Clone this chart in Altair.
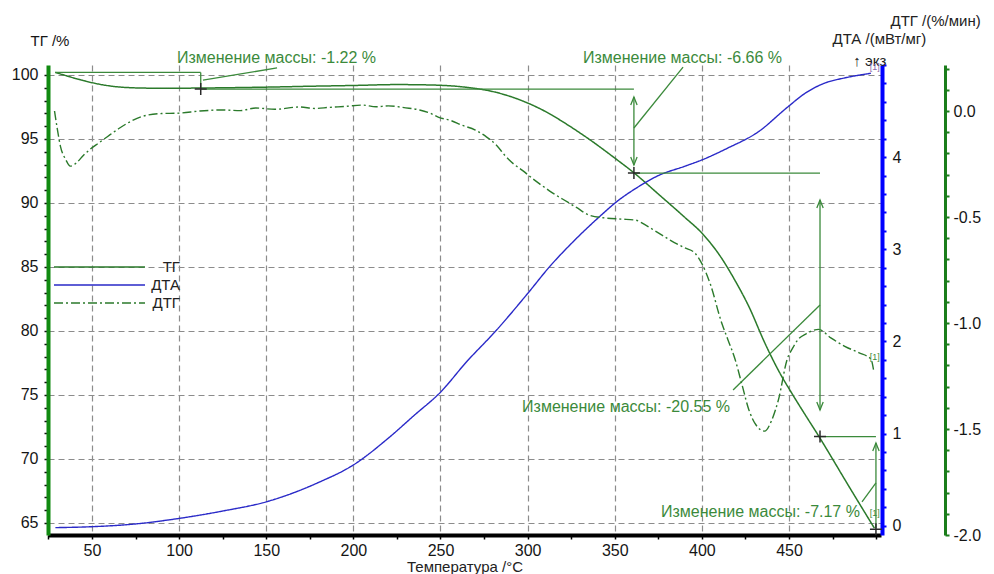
import altair as alt
import pandas as pd

# ---------------- data ----------------
# ТГ (mass, %) vs temperature (°C)
tg_t = [29, 35, 40, 50, 60, 70, 85, 100, 125, 150, 175, 200, 225, 244, 262, 282, 297, 314, 320, 335,
        350, 361, 375, 390, 400, 411, 419, 427, 436, 444, 452, 460, 467, 475, 482, 490, 499]
tg_v = [100.2, 99.95, 99.75, 99.4, 99.15, 99.02, 98.97, 98.97, 99.0, 99.05, 99.12, 99.18, 99.25, 99.22,
        99.08, 98.64, 97.98, 96.86, 96.36, 95.01, 93.51, 92.36, 90.7, 88.9, 87.65, 85.75, 83.95, 81.9,
        79.1, 76.9, 75.05, 73.3, 71.8, 70.0, 68.4, 66.6, 64.6]

# ДТА (mW/mg)
dta_t = [29, 50, 75, 100, 125, 150, 180, 200, 220, 235, 250, 265, 282, 300, 313, 326, 341, 352, 362,
         375, 390, 400, 415, 432, 449, 459, 470, 482, 497]
dta_v = [-0.02, -0.01, 0.02, 0.08, 0.16, 0.26, 0.47, 0.66, 0.95, 1.2, 1.45, 1.78, 2.12, 2.52, 2.82,
         3.08, 3.35, 3.53, 3.66, 3.80, 3.90, 3.97, 4.10, 4.27, 4.54, 4.69, 4.80, 4.86, 4.91]

# ДТГ (%/min)
dtg_t = [28.5, 30, 32, 35, 37.5, 41, 45, 49, 54, 59, 65, 72, 79, 90, 100, 112, 125, 135, 144, 155,
         169, 178, 186, 196, 205, 213, 220, 230, 238, 244, 249, 256, 262, 270, 276, 282, 287, 292, 297,
         303, 308, 314, 320, 328, 335, 345, 354, 362, 368, 375, 382, 390, 396, 400, 405, 411, 415, 419,
         423, 427, 431, 436, 440, 444, 449, 452, 455, 460, 467, 474, 482, 490, 497, 498.5]
dtg_v = [0.0, -0.08, -0.17, -0.23, -0.26, -0.245, -0.21, -0.18, -0.15, -0.12, -0.085, -0.05, -0.025,
         -0.012, -0.01, 0.0, 0.005, 0.002, 0.014, 0.008, 0.019, 0.012, 0.017, 0.022, 0.028, 0.02, 0.024,
         0.015, 0.005, -0.01, -0.03, -0.045, -0.066, -0.09, -0.12, -0.16, -0.21, -0.25, -0.28, -0.32,
         -0.35, -0.385, -0.415, -0.455, -0.49, -0.505, -0.51, -0.515, -0.54, -0.575, -0.61, -0.645,
         -0.67, -0.72, -0.82, -0.99, -1.08, -1.17, -1.29, -1.41, -1.48, -1.51, -1.46, -1.36, -1.17,
         -1.12, -1.08, -1.05, -1.03, -1.07, -1.11, -1.14, -1.17, -1.22]

series_names = ["ТГ", "ДТА", "ДТГ"]

# mass-change annotation segments (TG units)
seg_x1 = [28.8, 112.4, 112.4, 113.7, 361.0, 361.0, 361.0, 467.8, 467.8, 467.8, 499.9, 499.9]
seg_y1 = [100.2, 100.2, 98.9, 99.6, 98.28, 95.86, 92.34, 90.23, 82.03, 71.75, 71.25, 68.13]
seg_x2 = [112.4, 112.4, 361.0, 156.2, 361.0, 389.2, 467.8, 467.8, 417.9, 499.9, 499.9, 491.9]
seg_y2 = [100.2, 98.9, 98.9, 100.55, 92.97, 100.62, 92.34, 73.83, 75.39, 71.75, 64.6, 66.64]

arrow_up_x = [361.0, 467.8, 499.9]
arrow_up_y = [98.28, 90.23, 71.25]
arrow_dn_x = [361.0, 467.8]
arrow_dn_y = [92.97, 73.83]

cross_x = [112.4, 361.0, 467.8, 499.9]
cross_y = [98.9, 92.34, 71.75, 64.5]

ann_text = ["Изменение массы: -1.22 %", "Изменение массы: -6.66 %",
            "Изменение массы: -20.55 %", "Изменение массы: -7.17 %"]
ann_x = [98.8, 331.8, 296.8, 376.5]
ann_y = [101.33, 101.33, 74.06, 65.86]

tag_x = [499.2, 499.2, 499.2]
tag_y = [100.6, 77.97, 65.78]
tag_c = ["#8a6aa8", "#3b8a3b", "#3b8a3b"]

# ---------------- styling ----------------
FONT = "Liberation Sans"
TG_C = "#2b7a2b"
DTA_C = "#2a2ac8"
DTG_C = "#2b7a2b"
ANN_C = "#3b8a3b"
GRID_C = "#8c8c8c"
LEFT_G = "#118a11"
RIGHT_G = "#1b7d1b"
TXT = "#151515"

xdom = [24.75, 502.8]
tg_dom = [64.06, 100.78]
dta_dom = [-0.1, 5.0]
dtg_dom = [-2.0, 0.217]

xs = alt.Scale(domain=xdom, nice=False, zero=False)


def ys(d):
    return alt.Scale(domain=d, nice=False, zero=False)


color_scale = alt.Scale(domain=series_names, range=[TG_C, DTA_C, DTG_C])
dash_scale = alt.Scale(domain=series_names, range=[[1, 0], [1, 0], [9, 3, 2, 3]])

legend = alt.Legend(orient="none", legendX=5, legendY=194, title=None, symbolType="stroke",
                    symbolSize=8281, symbolStrokeWidth=1.3, clipHeight=16, labelAlign="right",
                    labelOffset=34, labelFontSize=15, labelFont=FONT, labelColor="#222",
                    rowPadding=2, padding=0)

x_axis = alt.Axis(values=list(range(25, 501, 25)),
                  labelExpr="datum.value % 50 === 0 && datum.value < 480 ? datum.label : ''",
                  grid=True, gridDash=[6, 4], gridColor=GRID_C, gridWidth=1.2,
                  gridOpacity={"condition": {"test": "datum.value % 50 === 0 && datum.value < 480",
                                             "value": 1}, "value": 0},
                  domainColor="#000000", domainWidth=4, tickColor="#000000", tickSize=4, tickWidth=1.5,
                  labelFontSize=16, labelColor=TXT, labelPadding=3, labelFlush=False, labelOverlap=False,
                  title="Температура /°C", titleFontSize=15, titleFontWeight="normal", titleColor="#222",
                  titlePadding=1, format="d")

tg_axis = alt.Axis(orient="left", values=list(range(65, 101)),
                   labelExpr="datum.value % 5 === 0 ? datum.label : ''",
                   grid=True, gridDash=[6, 4], gridColor=GRID_C, gridWidth=1.2,
                   gridOpacity={"condition": {"test": "datum.value % 5 === 0", "value": 1}, "value": 0},
                   domainColor=LEFT_G, domainWidth=4, tickColor="#111111", tickSize=4, tickWidth=1.5,
                   labelFontSize=16, labelColor=TXT, labelPadding=6, labelOverlap=False, labelFlush=False,
                   title="ТГ /%", titleAngle=0, titleX=-18, titleY=-20, titleAlign="left",
                   titleBaseline="alphabetic", titleFontSize=15, titleFontWeight="normal", titleColor=TXT)

dta_vals = [round(0.2 * i, 1) for i in range(26)]
dta_axis = alt.Axis(orient="right", offset=1, values=dta_vals,
                    labelExpr="abs(datum.value - round(datum.value)) < 0.001 && datum.value < 4.5 ? format(datum.value, 'd') : ''",
                    grid=False, domainColor="#0000ff", domainWidth=4, tickColor="#0000ff", tickSize=4,
                    tickWidth=2, labelFontSize=16, labelColor=TXT, labelPadding=6, labelOverlap=False,
                    labelFlush=False,
                    title=["ДТА /(мВт/мг)", "\u200b\u00a0\u00a0\u00a0\u00a0\u00a0\u2191 экз"],
                    titleAngle=0, titleX=-50, titleY=-22, titleAlign="left", titleBaseline="alphabetic",
                    titleLineHeight=22, titleFontSize=15, titleFontWeight="normal", titleColor="#222")

dtg_vals = [round(-2.0 + 0.1 * i, 1) for i in range(23)]
dtg_axis = alt.Axis(orient="right", offset=64, values=dtg_vals,
                    labelExpr="abs(datum.value*2 - round(datum.value*2)) < 0.001 ? "
                              "(datum.value < -0.001 ? '-' : '') + format(abs(datum.value), '.1f') : ''",
                    grid=False, domainColor=RIGHT_G, domainWidth=3, tickColor=RIGHT_G, tickSize=4,
                    tickWidth=2, labelFontSize=16, labelColor=TXT, labelPadding=4, labelOverlap=False,
                    labelFlush=False,
                    title="ДТГ /(%/мин)", titleAngle=0, titleX=-55, titleY=-40, titleAlign="left",
                    titleBaseline="alphabetic", titleFontSize=15, titleFontWeight="normal", titleColor="#222")

# ---------------- layers ----------------
tg_df = pd.DataFrame({"t": tg_t, "v": tg_v, "s": "ТГ"})
dta_df = pd.DataFrame({"t": dta_t, "v": dta_v, "s": "ДТА"})
dtg_df = pd.DataFrame({"t": dtg_t, "v": dtg_v, "s": "ДТГ"})

X = alt.X("t:Q", scale=xs, axis=x_axis)

tg_line = alt.Chart(tg_df).mark_line(strokeWidth=1.5, interpolate="monotone").encode(
    x=X,
    y=alt.Y("v:Q", scale=ys(tg_dom), axis=tg_axis),
    color=alt.Color("s:N", scale=color_scale, legend=legend),
    strokeDash=alt.StrokeDash("s:N", scale=dash_scale, legend=legend),
)

dta_line = alt.Chart(dta_df).mark_line(strokeWidth=1.4, interpolate="monotone").encode(
    x=X,
    y=alt.Y("v:Q", scale=ys(dta_dom), axis=dta_axis),
    color=alt.Color("s:N", scale=color_scale, legend=legend),
    strokeDash=alt.StrokeDash("s:N", scale=dash_scale, legend=legend),
)

dtg_line = alt.Chart(dtg_df).mark_line(strokeWidth=1.4, interpolate="monotone").encode(
    x=X,
    y=alt.Y("v:Q", scale=ys(dtg_dom), axis=dtg_axis),
    color=alt.Color("s:N", scale=color_scale, legend=legend),
    strokeDash=alt.StrokeDash("s:N", scale=dash_scale, legend=legend),
)

seg_df = pd.DataFrame({"t": seg_x1, "y1": seg_y1, "x2": seg_x2, "y2": seg_y2})
segs = alt.Chart(seg_df).mark_rule(color=ANN_C, strokeWidth=1.3).encode(
    x=X, x2="x2:Q",
    y=alt.Y("y1:Q", scale=ys(tg_dom), axis=None), y2="y2:Q",
)

up_df = pd.DataFrame({"t": arrow_up_x, "y": arrow_up_y})
dn_df = pd.DataFrame({"t": arrow_dn_x, "y": arrow_dn_y})
arrows_up = alt.Chart(up_df).mark_point(shape="M-0.4,1L0,0L0.4,1", size=256, filled=False,
                                        color=ANN_C, strokeWidth=1.3, opacity=1).encode(
    x=X, y=alt.Y("y:Q", scale=ys(tg_dom), axis=None))
arrows_dn = alt.Chart(dn_df).mark_point(shape="M-0.4,-1L0,0L0.4,-1", size=256, filled=False,
                                        color=ANN_C, strokeWidth=1.3, opacity=1).encode(
    x=X, y=alt.Y("y:Q", scale=ys(tg_dom), axis=None))

cross_df = pd.DataFrame({"t": cross_x, "y": cross_y})
crosses = alt.Chart(cross_df).mark_point(shape="M-1,0L1,0M0,-1L0,1", size=144, filled=False,
                                         color="#2a2a2a", strokeWidth=1.5, opacity=1).encode(
    x=X, y=alt.Y("y:Q", scale=ys(tg_dom), axis=None))

ann_df = pd.DataFrame({"t": ann_x, "y": ann_y, "label": ann_text})
ann = alt.Chart(ann_df).mark_text(align="left", baseline="middle", fontSize=16, font=FONT,
                                  color=ANN_C).encode(
    x=X, y=alt.Y("y:Q", scale=ys(tg_dom), axis=None), text="label:N")

tag_df = pd.DataFrame({"t": tag_x, "y": tag_y, "c": tag_c, "label": ["[1]"] * 3})
tags = alt.Chart(tag_df).mark_text(align="center", baseline="middle", fontSize=9, font=FONT).encode(
    x=X, y=alt.Y("y:Q", scale=ys(tg_dom), axis=None),
    text="label:N", color=alt.Color("c:N", scale=None))

chart = alt.layer(tg_line, dta_line, dtg_line, segs, arrows_up, arrows_dn, crosses, ann, tags).resolve_scale(
    y="independent"
).properties(
    width=833, height=470,
    autosize=alt.AutoSizeParams(type="none"),
    padding={"left": 40, "top": 57, "right": 105, "bottom": 42},
    background="white",
).configure(font=FONT).configure_view(stroke=None)

chart.save("out.html", embed_options={"renderer": "svg", "actions": False})
